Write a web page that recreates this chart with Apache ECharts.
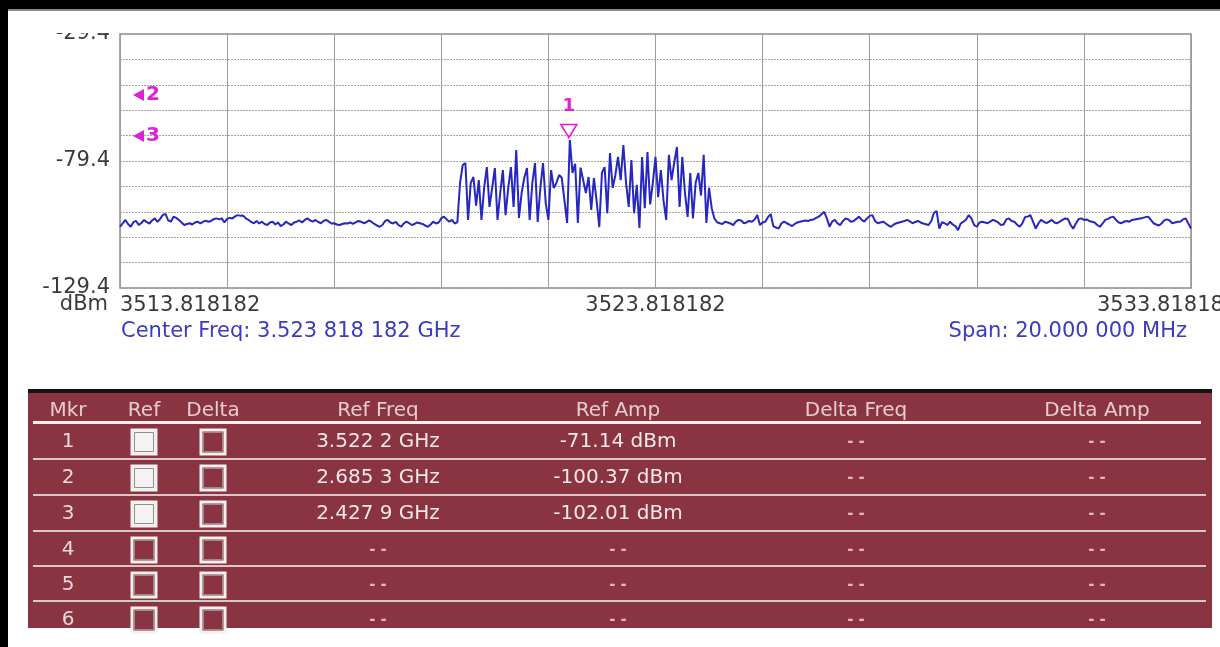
<!DOCTYPE html>
<html>
<head>
<meta charset="utf-8">
<title>Spectrum</title>
<script src="https://cdn.jsdelivr.net/npm/echarts@6/dist/echarts.min.js"></script>
<style>
  html, body { margin: 0; padding: 0; background: #fff; }
  #chart { width: 1220px; height: 647px; }
</style>
</head>
<body>
<div id="chart"></div>
<script>
// sweep settings
const START_MHZ = 3513.818182
const SPAN_MHZ = 20
const REF_LEVEL = -29.4

// trace amplitude (dBm), 401 sweep points across the span
const traceAmp = [
  -105.3, -104.0, -102.6, -104.2, -105.3, -103.5, -103.0, -104.6, -103.8, -102.6,
  -103.5, -104.0, -102.8, -102.0, -103.4, -102.2, -100.6, -100.3, -102.8, -103.3,
  -101.3, -101.8, -102.6, -103.6, -104.6, -104.2, -103.9, -104.4, -103.6, -103.3,
  -104.0, -103.4, -102.9, -103.3, -103.0, -102.3, -102.0, -102.4, -102.0, -103.6,
  -102.2, -101.8, -102.0, -101.2, -100.7, -101.0, -100.9, -102.0, -102.6, -103.4,
  -103.9, -103.0, -104.0, -103.3, -104.2, -104.6, -103.6, -103.3, -104.4, -103.6,
  -105.0, -104.4, -103.3, -104.0, -104.6, -103.6, -103.3, -102.8, -103.6, -102.6,
  -102.0, -102.8, -103.3, -102.6, -103.4, -103.9, -103.0, -102.6, -103.3, -104.0,
  -103.9, -104.4, -104.6, -104.2, -103.9, -104.0, -103.6, -104.2, -103.6, -103.0,
  -103.3, -103.9, -103.5, -102.8, -103.4, -104.2, -104.8, -105.3, -104.6, -103.0,
  -102.6, -103.6, -104.0, -103.4, -104.6, -105.3, -104.0, -103.3, -103.9, -104.6,
  -104.2, -103.6, -103.9, -104.2, -104.8, -105.3, -104.4, -103.3, -104.0, -103.6,
  -102.0, -101.3, -102.4, -103.3, -102.6, -104.0,
  // occupied band
  -103.5, -88.0, -81.0, -80.2, -102.6, -88.0, -85.7, -97.0, -86.9, -102.6,
  -90.0, -81.8, -97.5, -90.0, -82.2, -102.6, -92.0, -83.0, -100.7, -90.0,
  -81.8, -97.5, -75.1, -101.8, -92.0, -86.0, -82.2, -102.6, -88.0, -80.2,
  -103.4, -90.0, -80.2, -96.0, -102.6, -83.0, -90.0, -88.0, -84.9, -86.0,
  -95.0, -103.8, -71.14, -84.1, -80.5, -103.8, -82.0, -87.0, -92.0, -85.7,
  -98.7, -86.1, -95.0, -105.4, -84.0, -81.8, -100.0, -76.3, -90.0, -85.0,
  -77.8, -86.9, -73.1, -88.0, -97.5, -79.0, -100.0, -88.8, -105.8, -77.8,
  -98.0, -75.9, -96.5, -88.0, -77.8, -93.6, -83.0, -95.0, -102.6, -77.0,
  -86.9, -80.0, -73.9, -97.5, -77.8, -92.0, -101.4, -84.1, -102.0, -88.0,
  -84.1, -93.0, -77.0, -103.8, -90.0, -98.0, -102.0,
  // upper noise floor
  -103.5, -103.9, -104.2, -103.3, -103.6, -104.0, -104.6, -103.3, -102.6, -102.8,
  -103.9, -103.6, -103.0, -103.3, -102.4, -100.7, -104.6, -103.6, -103.3, -101.5,
  -100.3, -105.0, -105.6, -106.0, -104.0, -103.3, -103.9, -104.4, -105.0, -104.2,
  -103.6, -103.3, -103.0, -102.8, -103.0, -102.6, -102.4, -101.8, -101.3, -100.4,
  -99.4, -102.0, -105.3, -103.2, -102.6, -104.0, -104.6, -103.0, -102.0, -102.4,
  -103.3, -103.0, -102.2, -101.3, -102.6, -103.3, -102.0, -101.0, -100.7, -103.0,
  -103.9, -103.6, -103.3, -104.0, -104.8, -105.3, -104.4, -103.9, -103.6, -103.3,
  -103.0, -102.6, -103.2, -103.9, -103.4, -103.0, -103.6, -104.0, -104.3, -104.6,
  -103.0, -99.8, -99.1, -106.0, -103.5, -103.9, -104.6, -103.3, -104.4, -105.0,
  -106.6, -104.0, -103.3, -102.4, -100.7, -102.0, -104.6, -105.3, -103.6, -103.3,
  -103.6, -103.9, -103.3, -102.6, -103.0, -103.6, -104.6, -104.4, -102.4, -102.0,
  -103.0, -103.3, -104.4, -105.3, -104.0, -101.5, -101.3, -100.7, -103.3, -106.0,
  -104.0, -102.6, -103.3, -103.9, -103.3, -102.6, -103.6, -103.9, -103.3, -102.6,
  -102.0, -102.2, -104.5, -106.1, -104.0, -102.3, -102.0, -102.6, -102.4, -103.0,
  -103.3, -103.6, -104.6, -105.3, -104.0, -102.6, -102.2, -101.6, -101.3, -102.6,
  -103.6, -103.9, -103.3, -103.0, -103.3, -102.6, -102.4, -102.2, -102.0, -101.8,
  -101.5, -101.3, -102.6, -103.9, -104.4, -104.8, -104.0, -102.8, -102.4, -102.8,
  -103.9, -103.6, -103.3, -103.3, -102.4, -102.0, -104.0, -106.0
]

// marker 1 (on screen)
const marker1Freq = 3522.2
const marker1Amp = -71.14

// marker table
const tableHeaders = ['Mkr', 'Ref', 'Delta', 'Ref Freq', 'Ref Amp', 'Delta Freq', 'Delta Amp']
const mkrIds = ['1', '2', '3', '4', '5', '6']
const refChecked = [true, true, true, false, false, false]
const refFreq = ['3.522 2 GHz', '2.685 3 GHz', '2.427 9 GHz', '- -', '- -', '- -']
const refAmp = ['-71.14 dBm', '-100.37 dBm', '-102.01 dBm', '- -', '- -', '- -']
const deltaFreq = ['- -', '- -', '- -', '- -', '- -', '- -']
const deltaAmp = ['- -', '- -', '- -', '- -', '- -', '- -']

const FONT = 'DejaVu Sans'
const MAGENTA = '#e020d8'
const BLUE_TXT = '#3a3ac2'
const MAROON = '#8b3441'

const stepMhz = SPAN_MHZ / (traceAmp.length - 1)
const seriesData = traceAmp.map((a, i) => [i * stepMhz, a - REF_LEVEL])

// table layout
const colX = [68, 144, 213, 378, 618, 856, 1097]
const rowY = [442, 478, 514, 550, 585, 620]
const rowLineY = [459, 495, 531, 566, 601]

function tableGraphics() {
  const g = []
  g.push({ type: 'rect', z: 10, shape: { x: 28, y: 391, width: 1184, height: 237 }, style: { fill: MAROON } })
  g.push({ type: 'rect', z: 11, shape: { x: 28, y: 389, width: 1184, height: 4 }, style: { fill: '#141414' } })
  tableHeaders.forEach((h, i) => {
    g.push({
      type: 'text', z: 12, x: colX[i], y: 411,
      style: { text: h, font: '20px ' + FONT, fill: '#e5ccd0', align: 'center', verticalAlign: 'middle' },
    })
  })
  g.push({ type: 'rect', z: 12, shape: { x: 33, y: 421, width: 1168, height: 3 }, style: { fill: '#f6efef' } })
  rowLineY.forEach((y) => {
    g.push({ type: 'rect', z: 12, shape: { x: 33, y: y - 1, width: 1173, height: 2 }, style: { fill: '#d8c6c8' } })
  })
  mkrIds.forEach((id, r) => {
    const y = rowY[r]
    const cells = [refFreq[r], refAmp[r], deltaFreq[r], deltaAmp[r]]
    g.push({
      type: 'text', z: 12, x: colX[0], y,
      style: { text: id, font: '20px ' + FONT, fill: '#ead8da', align: 'center', verticalAlign: 'middle' },
    })
    ;[1, 2].forEach((c) => {
      const filled = c === 1 && refChecked[r]
      g.push({
        type: 'rect', z: 12,
        shape: { x: colX[c] - 12, y: y - 12, width: 24, height: 24 },
        style: { fill: filled ? '#f3f3f3' : MAROON, stroke: '#f4f0f0', lineWidth: 3 },
      })
      g.push({
        type: 'rect', z: 12,
        shape: { x: colX[c] - 9.5, y: y - 9.5, width: 19, height: 19 },
        style: { fill: 'none', stroke: '#9a8a8c', lineWidth: 1 },
      })
    })
    cells.forEach((t, k) => {
      const dash = t === '- -'
      g.push({
        type: 'text', z: 12, x: colX[k + 3], y,
        style: {
          text: t, font: (dash ? 'bold 15px ' : '20px ') + FONT,
          fill: dash ? '#e2b4bb' : '#f1e8e8', align: 'center', verticalAlign: 'middle',
        },
      })
    })
  })
  return g
}

function markerFlags() {
  // off-screen markers 2 and 3 parked on the left edge
  const g = []
  ;[['2', 95], ['3', 136]].forEach(([id, y]) => {
    g.push({ type: 'polygon', z: 20, shape: { points: [[133, y], [144, y - 6], [144, y + 6]] }, style: { fill: MAGENTA } })
    g.push({
      type: 'text', z: 20, x: 146, y,
      style: { text: id, font: 'bold 20px ' + FONT, fill: MAGENTA, align: 'left', verticalAlign: 'middle' },
    })
  })
  return g
}

const chart = echarts.init(document.getElementById('chart'), null, { renderer: 'canvas' })

chart.setOption({
  animation: false,
  backgroundColor: '#ffffff',
  grid: {
    left: 120, top: 34, width: 1071, height: 254,
    show: true, backgroundColor: '#ffffff', borderColor: '#8c8c8c', borderWidth: 1.5,
  },
  xAxis: {
    type: 'value', min: 0, max: SPAN_MHZ, interval: 2,
    axisLine: { show: false }, axisTick: { show: false },
    splitLine: { show: true, lineStyle: { color: '#9c9c9c', width: 1, type: 'solid' } },
    axisLabel: {
      margin: 7, color: '#3a3a3a', fontSize: 21, fontFamily: FONT,
      alignMinLabel: 'left',
      formatter: (v) => (Math.abs(v) < 1e-6 || Math.abs(v - 10) < 1e-6 ? (START_MHZ + v).toFixed(6) : ''),
    },
  },
  yAxis: {
    type: 'value', min: -100, max: 0, interval: 10,
    axisLine: { show: false }, axisTick: { show: false },
    splitLine: { show: true, lineStyle: { color: '#a4a4a4', width: 1, type: [2, 1] } },
    axisLabel: {
      margin: 10, color: '#3a3a3a', fontSize: 21, fontFamily: FONT,
      formatter: (v) => (Math.abs(v % 50) < 1e-6 ? (REF_LEVEL + v).toFixed(1) : ''),
    },
  },
  series: [
    {
      type: 'line',
      data: seriesData,
      showSymbol: false,
      lineStyle: { color: '#2626c2', width: 2 },
      z: 5,
      markPoint: {
        data: [
          {
            coord: [marker1Freq - START_MHZ, marker1Amp - REF_LEVEL],
            symbol: 'triangle', symbolRotate: 180, symbolSize: [16, 13], symbolOffset: [0, -9],
            itemStyle: { color: 'rgba(0,0,0,0)', borderColor: MAGENTA, borderWidth: 1.6 },
            label: {
              show: true, position: 'top', distance: 8, formatter: '1',
              color: MAGENTA, fontWeight: 'bold', fontSize: 18, fontFamily: FONT,
            },
          },
        ],
      },
    },
  ],
  graphic: [
    // clip the top reading like the instrument display does
    { type: 'rect', z: 50, shape: { x: 30, y: 9, width: 88, height: 24 }, style: { fill: '#ffffff' } },
    { type: 'rect', z: 60, shape: { x: 0, y: 0, width: 1220, height: 9 }, style: { fill: '#000000' } },
    { type: 'rect', z: 60, shape: { x: 0, y: 9, width: 1220, height: 2 }, style: { fill: '#8a8a8a' } },
    { type: 'rect', z: 60, shape: { x: 0, y: 0, width: 8, height: 647 }, style: { fill: '#000000' } },
    {
      type: 'text', z: 20, x: 108, y: 305,
      style: { text: 'dBm', font: '21px ' + FONT, fill: '#3a3a3a', align: 'right', verticalAlign: 'middle' },
    },
    {
      type: 'text', z: 20, x: 1097, y: 306,
      style: { text: (START_MHZ + SPAN_MHZ).toFixed(6), font: '21px ' + FONT, fill: '#3a3a3a', align: 'left', verticalAlign: 'middle' },
    },
    {
      type: 'text', z: 20, x: 121, y: 332,
      style: { text: 'Center Freq: 3.523 818 182 GHz', font: '21px ' + FONT, fill: BLUE_TXT, align: 'left', verticalAlign: 'middle' },
    },
    {
      type: 'text', z: 20, x: 1187, y: 332,
      style: { text: 'Span: 20.000 000 MHz', font: '21px ' + FONT, fill: BLUE_TXT, align: 'right', verticalAlign: 'middle' },
    },
    ...markerFlags(),
    ...tableGraphics(),
  ],
})
</script>
</body>
</html>
